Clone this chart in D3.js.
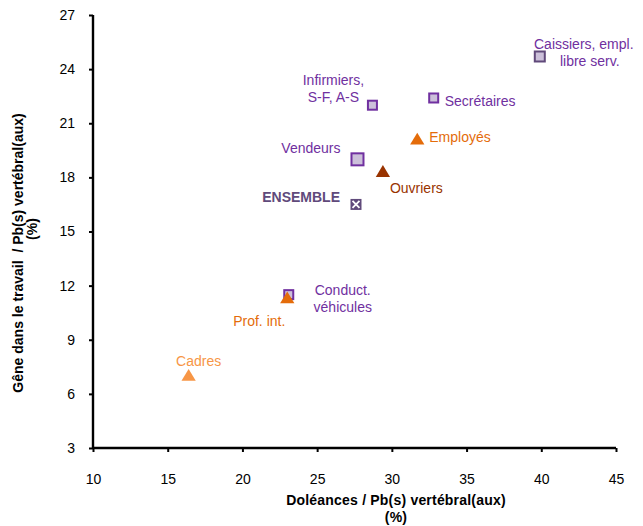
<!DOCTYPE html>
<html>
<head>
<meta charset="utf-8">
<script src="https://cdn.jsdelivr.net/npm/d3@7/dist/d3.min.js"></script>
<style>
  html, body { margin: 0; padding: 0; background: #fff; }
  svg { display: block; font-family: "Liberation Sans", Arial, sans-serif; }
</style>
</head>
<body>
<svg id="chart" width="643" height="526"></svg>
<script>
// Occupational groups: back complaints (x) vs. work hindrance (y), in %
const categories = [
  "Cadres", "Conduct. véhicules", "Prof. int.", "Employés", "Ouvriers",
  "Vendeurs", "Infirmiers, S-F, A-S", "Secrétaires",
  "Caissiers, empl. libre serv.", "ENSEMBLE"
];
const doleances = [16.4, 23.1, 23.0, 31.7, 29.4, 27.7, 28.7, 32.8, 39.9, 27.6];
const gene      = [7.0, 11.5, 11.3, 20.1, 18.3, 19.0, 22.0, 22.4, 24.7, 16.5];

const xTicks = [10, 15, 20, 25, 30, 35, 40, 45];
const yTicks = [3, 6, 9, 12, 15, 18, 21, 24, 27];

// Marker and label styling per group (label offsets in px from the marker)
const styles = {
  "Cadres": { shape: "tri", color: "#F79646", text: "#F79646",
    lines: [["Cadres", 10, -10]], anchor: "middle" },
  "Prof. int.": { shape: "tri", color: "#E46C0A", text: "#E46C0A",
    lines: [["Prof. int.", -28, 28]], anchor: "middle" },
  "Conduct. véhicules": { shape: "sq", size: 9, stroke: "#7030A0", fill: "#CCC0DA", text: "#7030A0",
    lines: [["Conduct.", 54, 0], ["véhicules", 54, 17]], anchor: "middle" },
  "Employés": { shape: "tri", color: "#E46C0A", text: "#E46C0A",
    lines: [["Employés", 12, 3]], anchor: "start" },
  "Ouvriers": { shape: "tri", color: "#993300", text: "#993300",
    lines: [["Ouvriers", 7, 21]], anchor: "start" },
  "Vendeurs": { shape: "sq", size: 12, stroke: "#7030A0", fill: "#CCC0DA", text: "#7030A0",
    lines: [["Vendeurs", -17, -6]], anchor: "end" },
  "Infirmiers, S-F, A-S": { shape: "sq", size: 9, stroke: "#7030A0", fill: "#CCC0DA", text: "#7030A0",
    lines: [["Infirmiers,", -39, -20], ["S-F, A-S", -39, -3]], anchor: "middle" },
  "Secrétaires": { shape: "sq", size: 9, stroke: "#7030A0", fill: "#CCC0DA", text: "#7030A0",
    lines: [["Secrétaires", 11, 8]], anchor: "start" },
  "Caissiers, empl. libre serv.": { shape: "sq", size: 10, stroke: "#60497A", fill: "#CCC0DA", text: "#7030A0",
    lines: [["Caissiers, empl.", 44, -7], ["libre serv.", 50, 10]], anchor: "middle" },
  "ENSEMBLE": { shape: "cross", size: 11, color: "#604A7B", text: "#604A7B", bold: true,
    lines: [["ENSEMBLE", -16, -2]], anchor: "end" }
};

const svg = d3.select("#chart");
const plotL = 93, plotR = 616, plotT = 15, plotB = 448;

const x = d3.scaleLinear().domain([10, 45]).range([plotL, plotR]);
const y = d3.scaleLinear().domain([3, 27]).range([plotB, plotT]);

// Axes
const xAxis = svg.append("g")
  .attr("transform", `translate(0,${plotB})`)
  .call(d3.axisBottom(x).tickValues(xTicks).tickSize(4).tickPadding(22).tickFormat(d3.format("d")));
const yAxis = svg.append("g")
  .attr("transform", `translate(${plotL},0)`)
  .call(d3.axisLeft(y).tickValues(yTicks).tickSize(4).tickPadding(14).tickFormat(d3.format("d")));

[xAxis, yAxis].forEach(g => {
  g.select(".domain").attr("stroke", "#000").attr("stroke-width", 2.4);
  g.selectAll(".tick line").attr("stroke", "#000").attr("stroke-width", 2);
  g.selectAll(".tick text").attr("font-size", 14).attr("fill", "#000")
    .attr("font-family", "'Liberation Sans', Arial, sans-serif");
});
// Plain axis lines without the outer end stubs
xAxis.select(".domain").attr("d", `M${plotL},0H${plotR}`);
yAxis.select(".domain").attr("d", `M0,${plotT}V${plotB}`);

// Axis titles
const xt = svg.append("text")
  .attr("text-anchor", "middle").attr("font-weight", "bold").attr("font-size", 14)
  .attr("letter-spacing", 0.2);
xt.append("tspan").attr("x", 396).attr("y", 505).text("Doléances / Pb(s) vertébral(aux)");
xt.append("tspan").attr("x", 396).attr("y", 522).text("(%)");

svg.append("text")
  .attr("transform", "translate(23,253) rotate(-90)")
  .attr("text-anchor", "middle").attr("font-weight", "bold").attr("font-size", 14)
  .attr("xml:space", "preserve")
  .text("Gêne dans le travail  / Pb(s) vertébral(aux)");
svg.append("text")
  .attr("transform", "translate(37,229) rotate(-90)")
  .attr("text-anchor", "middle").attr("font-weight", "bold").attr("font-size", 14)
  .text("(%)");

// Points (later entries are drawn on top)
const pts = categories.map((c, i) => ({ name: c, x: doleances[i], y: gene[i], s: styles[c] }));
const tri = d3.symbol().type(d3.symbolTriangle).size(80);

const marks = svg.append("g");
pts.forEach(p => {
  const cx = x(p.x), cy = y(p.y), s = p.s;
  if (s.shape === "tri") {
    marks.append("path").attr("d", tri())
      .attr("transform", `translate(${cx},${cy + 1}) scale(1.05,1)`)
      .attr("fill", s.color);
  } else if (s.shape === "sq") {
    const h = s.size / 2;
    marks.append("rect")
      .attr("x", cx - h).attr("y", cy - h).attr("width", s.size).attr("height", s.size)
      .attr("fill", s.fill).attr("stroke", s.stroke).attr("stroke-width", 2);
  } else if (s.shape === "cross") {
    const h = s.size / 2;
    marks.append("rect")
      .attr("x", cx - h).attr("y", cy - h).attr("width", s.size).attr("height", s.size)
      .attr("fill", s.color);
    marks.append("path")
      .attr("d", `M${cx - h + 2},${cy - h + 2}L${cx + h - 2},${cy + h - 2}M${cx + h - 2},${cy - h + 2}L${cx - h + 2},${cy + h - 2}`)
      .attr("stroke", "#fff").attr("stroke-width", 1.8);
  }
});

// Labels
const labels = svg.append("g").attr("font-size", 14);
pts.forEach(p => {
  const cx = x(p.x), cy = y(p.y), s = p.s;
  s.lines.forEach(([t, dx, dy]) => {
    labels.append("text")
      .attr("x", cx + dx).attr("y", cy + dy)
      .attr("text-anchor", s.anchor)
      .attr("fill", s.text)
      .attr("font-weight", s.bold ? "bold" : "normal")
      .text(t);
  });
});
</script>
</body>
</html>
